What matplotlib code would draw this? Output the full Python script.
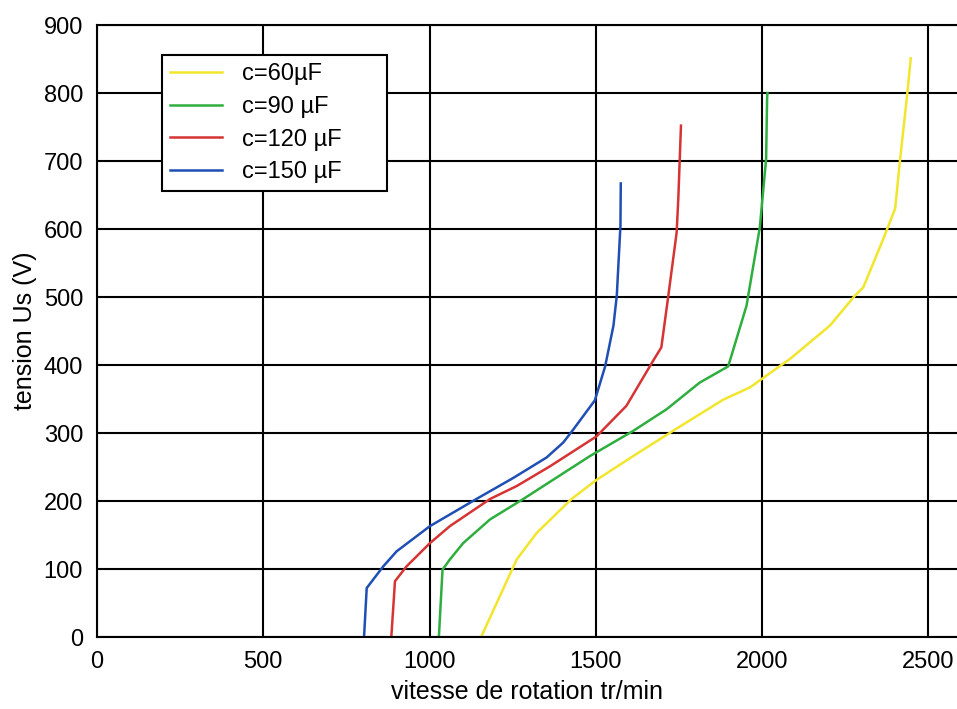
import numpy as np
import matplotlib.pyplot as plt

plt.rcParams['font.family'] = ['Liberation Sans', 'DejaVu Sans']

# c = 60 uF
x60 = [1155, 1262, 1322, 1427, 1502, 1612, 1738, 1883, 1963, 2084, 2204, 2279, 2304, 2364, 2400, 2415, 2435, 2447]
y60 = [0, 114, 153, 203, 231, 266, 305, 349, 367, 409, 458, 502, 514, 585, 630, 703, 792, 851]
# c = 90 uF
x90 = [1028, 1039, 1061, 1101, 1182, 1282, 1482, 1612, 1713, 1812, 1898, 1953, 1993, 2012, 2015, 2016]
y90 = [0, 99, 114, 138, 173, 203, 266, 303, 335, 374, 398, 487, 602, 703, 792, 800]
# c = 120 uF
x120 = [885, 896, 931, 1001, 1061, 1182, 1262, 1362, 1502, 1592, 1672, 1697, 1718, 1743, 1748, 1756]
y120 = [0, 82, 104, 138, 163, 203, 222, 251, 295, 340, 406, 426, 502, 595, 645, 752]
# c = 150 uF
x150 = [803, 811, 861, 901, 1001, 1141, 1252, 1352, 1402, 1432, 1497, 1528, 1553, 1563, 1574, 1575]
y150 = [0, 72, 104, 126, 163, 203, 234, 264, 286, 305, 348, 398, 458, 502, 605, 667]

labels = ['c=60µF', 'c=90 µF', 'c=120 µF', 'c=150 µF']
colors = ['#f2e62c', '#2eae3e', '#d63434', '#1f4fb4']

fig = plt.figure(figsize=(9.57, 7.09), dpi=100)
ax = fig.add_axes([97/957, 1 - 637/709, 1 - 97/957, (637 - 25)/709])

for xs, ys, lab, col in zip([x60, x90, x120, x150], [y60, y90, y120, y150], labels, colors):
    ax.plot(xs, ys, color=col, lw=1.8, label=lab)

ax.set_xlim(0, 2586)
ax.set_ylim(0, 900)
ax.set_xticks(np.arange(0, 2501, 500))
ax.set_yticks(np.arange(0, 901, 100))
ax.grid(True, color='black', lw=1.5)
ax.set_axisbelow(True)
for s in ax.spines.values():
    s.set_color('black')
    s.set_linewidth(1.5)
ax.spines['right'].set_visible(False)
ax.tick_params(labelsize=17, length=0, pad=10)

ax.set_xlabel('vitesse de rotation tr/min', fontsize=18, labelpad=5)
ax.set_ylabel('tension Us (V)', fontsize=18, labelpad=5)

# legend box spans roughly x 162-387, y 55-188 px
top = 1 - 30/612
leg = ax.legend(loc='upper left', bbox_to_anchor=(65/860, top - 0.2, 225/860, 0.2),
                mode='expand', fontsize=17,
                frameon=True, fancybox=False, edgecolor='black', framealpha=1,
                handlelength=2.2, handletextpad=0.85, borderpad=0.35, labelspacing=0.45,
                borderaxespad=0)
leg.get_frame().set_linewidth(1.5)

fig.savefig('out.png', dpi=100)
